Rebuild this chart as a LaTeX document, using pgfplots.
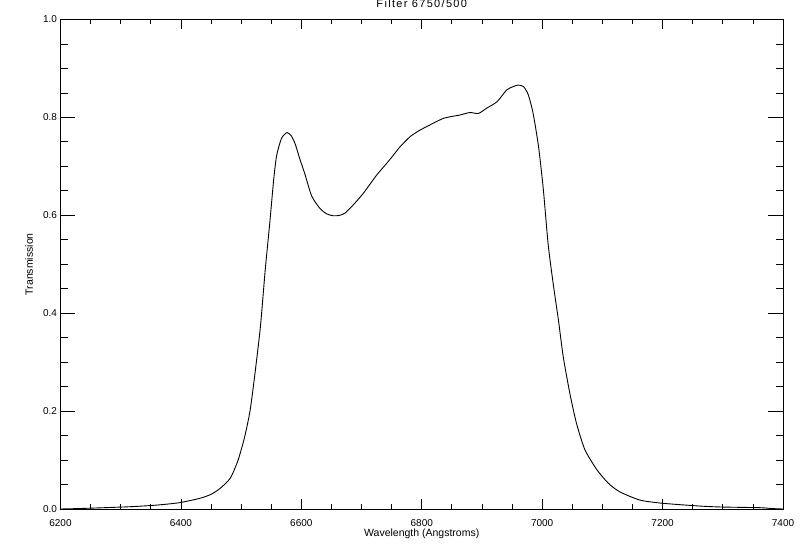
\documentclass[border=0pt]{standalone}
\usepackage{fontspec}
\setmainfont{Liberation Sans}
\usepackage{pgfplots}
\pgfplotsset{compat=1.18}

\pgfplotstableread{
x y
6200 0.000
6232 0.001
6280 0.003
6321 0.005
6360 0.008
6398 0.013
6432 0.022
6450 0.030
6465 0.042
6482 0.063
6495 0.100
6506 0.148
6515 0.202
6523 0.277
6532 0.372
6540 0.488
6548 0.590
6554 0.672
6559 0.722
6567 0.757
6576 0.769
6583 0.763
6590 0.745
6598 0.713
6605 0.688
6617 0.640
6631 0.614
6642 0.603
6653 0.599
6664 0.600
6673 0.605
6686 0.621
6703 0.645
6725 0.682
6741 0.705
6753 0.723
6764 0.740
6781 0.761
6797 0.774
6808 0.781
6822 0.790
6836 0.798
6850 0.802
6864 0.805
6880 0.810
6894 0.808
6908 0.819
6925 0.832
6941 0.856
6952 0.863
6960 0.866
6969 0.863
6977 0.846
6985 0.808
6994 0.740
7002 0.652
7010 0.540
7019 0.454
7027 0.386
7035 0.311
7046 0.236
7057 0.175
7071 0.121
7091 0.080
7110 0.0525
7129 0.035
7163 0.018
7201 0.0116
7262 0.006
7300 0.004
7362 0.0027
7380 0.001
7400 0.000
}\filtercurve

\pgfplotsset{
  idlbox/.style={
    at={(60.5pt,41pt)}, anchor=south west,
    scale only axis, width=722.5pt, height=489.5pt,
    xmin=6200, xmax=7400, ymin=0, ymax=1,
    axis line style={line width=0.8pt},
    tick style={line width=0.8pt, black},
    tick pos=both,
    tick align=inside,
  }
}

\begin{document}
\begin{tikzpicture}
\useasboundingbox (0,0) rectangle (800pt,550pt);
% x ticks (shorter) + curve + labels
\begin{axis}[
  idlbox,
  xtick={6200,6400,...,7400},
  minor x tick num=3,
  ytick=\empty,
  major tick length=10pt,
  minor tick length=5pt,
  xticklabel style={font=\fontsize{10}{12}\selectfont, yshift=-6.5pt},
  /pgf/number format/1000 sep={},
  /pgf/number format/assume math mode=true,
  title={Filter 6750/500},
  title style={font=\fontsize{11}{13}\selectfont\addfontfeature{LetterSpace=12},
    at={(axis description cs:0.5,1)}, anchor=base, yshift=5.5pt},
  xlabel={Wavelength (Angstroms)},
  xlabel style={font=\fontsize{10.5}{12}\selectfont,
    at={(axis description cs:0.5,0)}, anchor=base, yshift=-27.5pt},
  ylabel={Transmission},
  ylabel style={font=\fontsize{10.5}{12}\selectfont,
    at={(axis description cs:-0.0436,0.5)}, anchor=center},
]
\addplot[black, line width=0.9pt, smooth, tension=0.4] table[x=x, y=y] {\filtercurve};
\end{axis}
% y ticks (longer)
\begin{axis}[
  idlbox,
  xtick=\empty,
  ytick={0,0.2,...,1.0},
  minor y tick num=3,
  major tick length=14.7pt,
  minor tick length=7.3pt,
  yticklabel style={font=\fontsize{10}{12}\selectfont,
    /pgf/number format/.cd, fixed, fixed zerofill, precision=1, assume math mode=true},
]
\end{axis}
\end{tikzpicture}
\end{document}
